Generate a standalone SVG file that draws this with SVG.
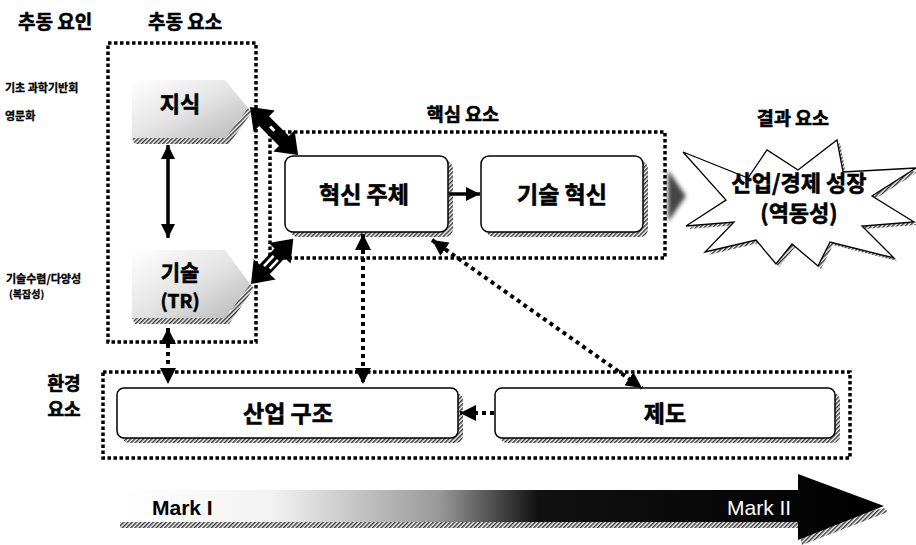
<svg xmlns="http://www.w3.org/2000/svg" width="916" height="545" viewBox="0 0 916 545">
<defs>
<style>
.t{font-family:"Noto Sans CJK KR","Noto Sans",sans-serif;font-weight:bold;fill:#000;stroke:#000;stroke-width:0.6}
.s{stroke-width:0.3}
.dotbox{fill:none;stroke:#000;stroke-width:3.5;stroke-dasharray:3.5 2.5}
.dotc{fill:none;stroke:#000;stroke-width:4;stroke-dasharray:4 4}
.node{fill:#fff;stroke:#000;stroke-width:1.5}
.shadow{fill:url(#hatch)}
.solid{fill:none;stroke:#000;stroke-width:3.5}
.mark{font-family:"Liberation Sans","DejaVu Sans",sans-serif;font-size:21px}
</style>
<pattern id="hatch" width="3" height="3" patternUnits="userSpaceOnUse" patternTransform="rotate(45)">
<rect width="3" height="3" fill="#fff"/>
<rect width="1.5" height="3" fill="#333"/>
</pattern>
<linearGradient id="plate" x1="0" y1="0" x2="1" y2="1">
<stop offset="0" stop-color="#fff"/>
<stop offset="0.5" stop-color="#e4e4e4"/>
<stop offset="1" stop-color="#b8b8b8"/>
</linearGradient>
<linearGradient id="bar" x1="120" y1="0" x2="880" y2="0" gradientUnits="userSpaceOnUse">
<stop offset="0" stop-color="#fff"/>
<stop offset="0.2" stop-color="#f2f2f2"/>
<stop offset="0.42" stop-color="#999"/>
<stop offset="0.55" stop-color="#111"/>
<stop offset="1" stop-color="#000"/>
</linearGradient>
<filter id="blur" x="-50%" y="-50%" width="200%" height="200%"><feGaussianBlur stdDeviation="2"/></filter>
<marker id="ah" viewBox="0 0 10 10" refX="10" refY="5" markerWidth="4" markerHeight="4" orient="auto-start-reverse" markerUnits="strokeWidth">
<path d="M0,0 L10,5 L0,10 Z" fill="#000"/>
</marker>
<path id="star" d="M683,152 L748,178 L767,150 L798,170 L837,140 L843,172 L916,168 L872,196 L914,222 L862,226 L894,258 L830,242 L818,266 L792,244 L776,264 L756,240 L705,252 L734,222 L686,226 L726,200 Z"/>
</defs>
<rect width="916" height="545" fill="#fff"/>

<g id="titles">
<text class="t" x="18" y="29" font-size="19">추동 요인</text>
<text class="t" x="148" y="29" font-size="19">추동 요소</text>
<text class="t" x="463" y="121" font-size="18.5" text-anchor="middle">핵심 요소</text>
<text class="t" x="793" y="125" font-size="18.5" text-anchor="middle">결과 요소</text>
<text class="t" x="64" y="390" font-size="18" text-anchor="middle">환경</text>
<text class="t" x="64" y="416" font-size="18" text-anchor="middle">요소</text>
</g>

<g id="drivers">
<text class="t s" x="5" y="92" font-size="11">기초 과학기반회</text>
<text class="t s" x="5" y="120" font-size="11">영문화</text>
<text class="t s" x="6" y="283" font-size="11">기술수렴/다양성</text>
<text class="t s" x="9" y="298" font-size="10">(복잡성)</text>
</g>

<g id="boxes">
<rect class="dotbox" x="108" y="43" width="148" height="299"/>
<rect class="dotbox" x="270" y="132" width="395" height="126"/>
<rect class="dotbox" x="103" y="372" width="747" height="86"/>
</g>

<g id="node-jisik">
<polygon class="shadow" points="132,138 225,138 248,108 252,112 229,144 135,144"/>
<polygon points="132,80 225,80 248,108 225,138 132,138" fill="url(#plate)"/>
<text class="t" x="180" y="112" font-size="22" text-anchor="middle">지식</text>
</g>

<g id="node-gisul">
<polygon class="shadow" points="132,318 225,318 250,284 254,288 229,324 135,324"/>
<polygon points="132,250 225,250 250,284 225,318 132,318" fill="url(#plate)"/>
<text class="t" x="180" y="280" font-size="21" text-anchor="middle">기술</text>
<text class="t" x="180" y="308" font-size="19" text-anchor="middle">(TR)</text>
</g>

<g id="node-actor">
<rect class="shadow" x="290" y="161" width="163" height="76" rx="8"/>
<rect class="node" x="285" y="156" width="163" height="76" rx="8"/>
<text class="t" x="364" y="203" font-size="23" text-anchor="middle">혁신 주체</text>
</g>

<g id="node-techinno">
<rect class="shadow" x="486" y="161" width="162" height="76" rx="8"/>
<rect class="node" x="481" y="156" width="162" height="76" rx="8"/>
<text class="t" x="562" y="203" font-size="23" text-anchor="middle">기술 혁신</text>
</g>

<g id="node-result">
<use href="#star" fill="url(#hatch)" transform="translate(3,3)"/>
<use href="#star" fill="#fff" stroke="#000" stroke-width="1.3"/>
<text class="t" x="799" y="191" font-size="22" text-anchor="middle">산업/경제 성장</text>
<text class="t" x="799" y="221" font-size="22" text-anchor="middle">(역동성)</text>
</g>

<g id="node-industry">
<rect class="shadow" x="122" y="393" width="341" height="50" rx="7"/>
<rect class="node" x="117" y="388" width="341" height="50" rx="7"/>
<text class="t" x="288" y="422" font-size="23" text-anchor="middle">산업 구조</text>
</g>

<g id="node-institution">
<rect class="shadow" x="500" y="393" width="340" height="50" rx="7"/>
<rect class="node" x="495" y="388" width="340" height="50" rx="7"/>
<text class="t" x="665" y="422" font-size="23" text-anchor="middle">제도</text>
</g>

<g id="connectors">
<line class="solid" x1="168" y1="145" x2="168" y2="238" marker-start="url(#ah)" marker-end="url(#ah)"/>
<line class="dotc" x1="168" y1="328" x2="168" y2="384" marker-start="url(#ah)" marker-end="url(#ah)"/>
<line class="dotc" x1="363" y1="234" x2="363" y2="384" marker-start="url(#ah)" marker-end="url(#ah)"/>
<line class="dotc" x1="432" y1="240" x2="642" y2="388" marker-start="url(#ah)" marker-end="url(#ah)"/>
<line class="dotc" x1="494" y1="413" x2="460" y2="413" marker-end="url(#ah)"/>
<line class="solid" x1="449" y1="194" x2="480" y2="194" marker-end="url(#ah)"/>
<g transform="translate(250,107) rotate(45)">
<polygon points="0,0 20,-15 20,-7 48,-7 48,-15 68,0 48,15 48,7 20,7 20,15" fill="#000"/>
<rect x="28" y="-2" width="6" height="3" fill="#fff"/>
</g>
<g transform="translate(251,284) rotate(-47)">
<polygon points="0,0 20,-15 20,-7 42,-7 42,-15 62,0 42,15 42,7 20,7 20,15" fill="#000"/>
<rect x="22" y="-4" width="14" height="2.5" fill="#fff"/>
<rect x="24" y="2" width="12" height="2.5" fill="#fff"/>
</g>
<polygon points="668,170 686,196 668,222" fill="#444" filter="url(#blur)"/>
</g>

<g id="mark-arrow">
<polygon points="120,522 798,522 798,528 120,528" fill="url(#hatch)"/>
<polygon points="798,528 884,508 888,512 802,545" fill="url(#hatch)"/>
<polygon points="120,490 798,490 798,474 884,506 798,540 798,522 120,522" fill="url(#bar)"/>
<text class="mark" x="152" y="515" font-weight="bold">Mark I</text>
<text class="mark" x="727" y="515" fill="#fff">Mark II</text>
</g>
</svg>
